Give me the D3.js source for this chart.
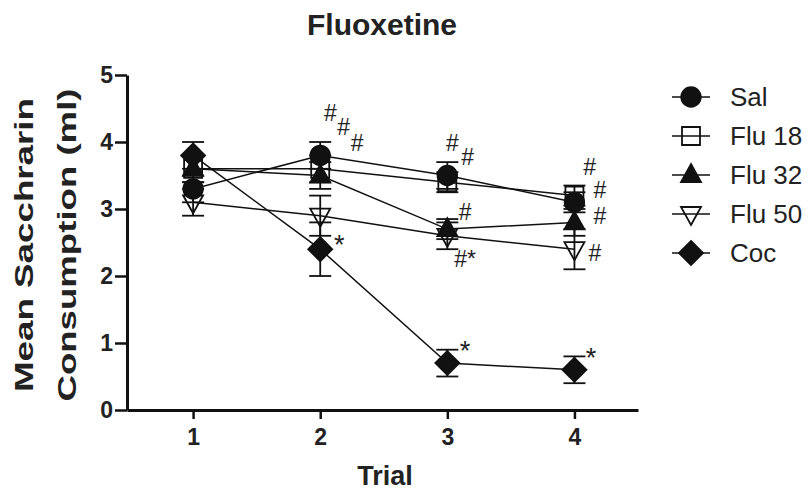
<!DOCTYPE html>
<html>
<head>
<meta charset="utf-8">
<script src="https://cdn.jsdelivr.net/npm/d3@7/dist/d3.min.js"></script>
<style>
  html, body { margin: 0; padding: 0; background: #fff; }
  svg { display: block; }
  text { font-family: "Liberation Sans", Arial, Helvetica, sans-serif; fill: #222; }
</style>
</head>
<body>
<svg id="chart" width="811" height="493"></svg>
<script>
// ---------- data ----------
const trials = [1, 2, 3, 4];
const seriesNames = ["Sal", "Flu 18", "Flu 32", "Flu 50", "Coc"];
const salMean   = [3.3, 3.8, 3.5, 3.1];
const salSem    = [0.2, 0.2, 0.2, 0.15];
const flu18Mean = [3.6, 3.6, 3.4, 3.2];
const flu18Sem  = [0.2, 0.2, 0.15, 0.15];
const flu32Mean = [3.6, 3.5, 2.7, 2.8];
const flu32Sem  = [0.2, 0.2, 0.15, 0.2];
const flu50Mean = [3.1, 2.9, 2.6, 2.4];
const flu50Sem  = [0.2, 0.3, 0.2, 0.3];
const cocMean   = [3.8, 2.4, 0.7, 0.6];
const cocSem    = [0.2, 0.4, 0.2, 0.2];
const yTicks = [0, 1, 2, 3, 4, 5];
const xTicks = [1, 2, 3, 4];
// significance annotations: [trial position, value position (baseline), label]
const annotTrial = [2.08, 2.185, 2.29, 2.15, 3.04, 3.16, 3.14, 3.14, 3.14, 4.12, 4.20, 4.20, 4.16, 4.13];
const annotValue = [4.32, 4.10, 3.86, 2.33, 3.86, 3.66, 2.84, 2.13, 0.75, 3.51, 3.17, 2.78, 2.23, 0.64];
const annotLabel = ["#", "#", "#", "*", "#", "#", "#", "#*", "*", "#", "#", "#", "#", "*"];

const series = [
  { name: seriesNames[0], mean: salMean,   sem: salSem,   shape: "circle" },
  { name: seriesNames[1], mean: flu18Mean, sem: flu18Sem, shape: "square" },
  { name: seriesNames[2], mean: flu32Mean, sem: flu32Sem, shape: "triUp" },
  { name: seriesNames[3], mean: flu50Mean, sem: flu50Sem, shape: "triDown" },
  { name: seriesNames[4], mean: cocMean,   sem: cocSem,   shape: "diamond" }
];

// ---------- layout ----------
const svg = d3.select("#chart");
const x = d3.scaleLinear().domain([0.48, 4.5]).range([127, 638]);
const y = d3.scaleLinear().domain([0, 5]).range([410, 75]);

function markerPath(shape) {
  switch (shape) {
    case "circle":  return d3.symbol(d3.symbolCircle, 300)();
    case "square":  return "M-9,-9H9V9H-9Z";
    case "triUp":   return "M0,-11L10,7L-10,7Z";
    case "triDown": return "M0,11L10,-7L-10,-7Z";
    case "diamond": return "M0,-12L12,0L0,12L-12,0Z";
  }
}
const filled = { circle: true, square: false, triUp: true, triDown: false, diamond: true };

// ---------- axes ----------
const yAxis = svg.append("g").attr("transform", `translate(${x.range()[0]},0)`)
  .call(d3.axisLeft(y).tickValues(yTicks).tickFormat(d3.format("d")).tickSize(12).tickSizeOuter(0).tickPadding(2));
const xAxis = svg.append("g").attr("transform", `translate(0,${y(0)})`)
  .call(d3.axisBottom(x).tickValues(xTicks).tickFormat(d3.format("d")).tickSize(9).tickSizeOuter(0).tickPadding(10));
[yAxis, xAxis].forEach(g => {
  g.select(".domain").attr("stroke", "#111").attr("stroke-width", 3);
  g.selectAll(".tick line").attr("stroke", "#111").attr("stroke-width", 2.5);
  g.selectAll(".tick text").attr("fill", "#222").style("font-weight", "bold")
    .style("font-size", "23px")
    .style("font-family", '"Liberation Sans", Arial, sans-serif');
});

// ---------- lines ----------
const line = d3.line().x((d, i) => x(trials[i])).y(d => y(d));
svg.append("g").selectAll("path").data(series).join("path")
  .attr("d", s => line(s.mean)).attr("fill", "none").attr("stroke", "#111").attr("stroke-width", 1.5);

// ---------- error bars ----------
const capW = 11;
series.forEach(s => {
  const g = svg.append("g").attr("stroke", "#111").attr("stroke-width", 1.8);
  s.mean.forEach((m, i) => {
    const cx = x(trials[i]);
    const y1 = y(m + s.sem[i]), y2 = y(m - s.sem[i]);
    g.append("line").attr("x1", cx).attr("x2", cx).attr("y1", y1).attr("y2", y2);
    g.append("line").attr("x1", cx - capW).attr("x2", cx + capW).attr("y1", y1).attr("y2", y1);
    g.append("line").attr("x1", cx - capW).attr("x2", cx + capW).attr("y1", y2).attr("y2", y2);
  });
});

// ---------- markers ----------
series.forEach(s => {
  svg.append("g").selectAll("path").data(s.mean).join("path")
    .attr("transform", (d, i) => `translate(${x(trials[i])},${y(d)})`)
    .attr("d", markerPath(s.shape))
    .attr("fill", filled[s.shape] ? "#111" : "none")
    .attr("stroke", "#111").attr("stroke-width", 1.8);
});

// ---------- annotations ----------
svg.append("g").selectAll("text").data(annotLabel).join("text")
  .attr("x", (d, i) => x(annotTrial[i])).attr("y", (d, i) => y(annotValue[i]))
  .attr("text-anchor", "middle").style("font-size", d => d === "*" ? "27px" : "23px").text(d => d);

// ---------- titles ----------
svg.append("text").attr("x", 382).attr("y", 35).attr("text-anchor", "middle")
  .style("font-size", "30px").style("font-weight", "bold").text("Fluoxetine");
svg.append("text").attr("x", 385).attr("y", 485).attr("text-anchor", "middle")
  .style("font-size", "27px").style("font-weight", "bold").text("Trial");
const yl = svg.append("text").attr("transform", "translate(0,245) rotate(-90)")
  .attr("text-anchor", "middle").style("font-size", "25px").style("font-weight", "bold");
yl.append("tspan").attr("x", 0).attr("y", 33).attr("textLength", 294).attr("lengthAdjust", "spacingAndGlyphs").text("Mean Sacchrarin");
yl.append("tspan").attr("x", 0).attr("y", 76).attr("textLength", 313).attr("lengthAdjust", "spacingAndGlyphs").text("Consumption (ml)");

// ---------- legend ----------
const lg = svg.append("g").selectAll("g").data(series).join("g")
  .attr("transform", (d, i) => `translate(691,${97 + i * 39})`);
lg.append("line").attr("x1", -19).attr("x2", 19).attr("stroke", "#111").attr("stroke-width", 1.5);
lg.append("path").attr("d", s => markerPath(s.shape))
  .attr("fill", s => filled[s.shape] ? "#111" : "none").attr("stroke", "#111").attr("stroke-width", 1.8);
lg.append("text").attr("x", 39).attr("y", 0).attr("dy", "0.36em")
  .style("font-size", "26px").text(s => s.name);
</script>
</body>
</html>
